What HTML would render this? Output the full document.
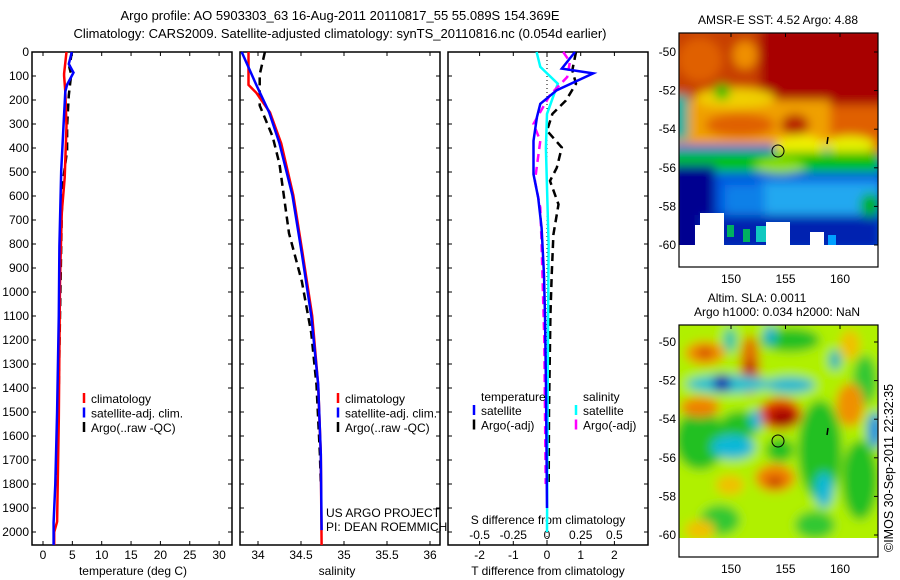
<!DOCTYPE html>
<html><head><meta charset="utf-8"><style>
html,body{margin:0;padding:0;background:#fff;}
svg{display:block;font-family:"Liberation Sans",sans-serif;}
text{font-size:12px;fill:#000;}
</style></head><body>
<svg id="chart" width="900" height="580" viewBox="0 0 900 580" xmlns="http://www.w3.org/2000/svg">
<defs>
<filter id="blur4" x="-10%" y="-10%" width="120%" height="120%"><feGaussianBlur stdDeviation="5"/></filter>
<clipPath id="clipTop"><rect x="679" y="33" width="199" height="212"/></clipPath>
<clipPath id="clipBot"><rect x="679" y="325" width="199" height="213"/></clipPath>
<clipPath id="clipP1"><rect x="32" y="40" width="200" height="505"/></clipPath>
<clipPath id="clipP2"><rect x="240" y="40" width="200" height="505"/></clipPath>
<clipPath id="clipP3"><rect x="448" y="40" width="200" height="505"/></clipPath>
</defs>
<text x="340" y="20" text-anchor="middle" style="font-size:13px">Argo profile: AO 5903303_63 16-Aug-2011 20110817_55 55.089S 154.369E</text>
<text x="340" y="38" text-anchor="middle" style="font-size:13px">Climatology: CARS2009. Satellite-adjusted climatology: synTS_20110816.nc (0.054d earlier)</text>

<g id="p1"></g>
<g id="p2"></g>
<g id="p3"></g>

<g>
<text x="778" y="24" text-anchor="middle">AMSR-E SST: 4.52 Argo: 4.88</text>
<g clip-path="url(#clipTop)">
<g filter="url(#blur4)">
<rect x="670" y="25" width="220" height="240" fill="#0058e0"/>
<rect x="670" y="25" width="220" height="95" fill="#a80000"/>
<rect x="670" y="25" width="90" height="80" fill="#c84000"/>
<ellipse cx="700" cy="60" rx="22" ry="22" fill="#e06000"/>
<ellipse cx="745" cy="55" rx="12" ry="14" fill="#f09000"/>
<rect x="670" y="100" width="160" height="45" fill="#f0a000"/>
<ellipse cx="740" cy="125" rx="35" ry="12" fill="#e06000"/>
<ellipse cx="795" cy="125" rx="14" ry="11" fill="#b82000"/>
<rect x="830" y="105" width="60" height="50" fill="#e06000"/>
<ellipse cx="735" cy="98" rx="40" ry="10" fill="#f0d000"/>
<ellipse cx="800" cy="148" rx="25" ry="13" fill="#f0f000"/>
<ellipse cx="850" cy="145" rx="25" ry="9" fill="#e8f000"/>
<ellipse cx="722" cy="92" rx="8" ry="8" fill="#00c000"/>
<rect x="670" y="95" width="18" height="45" fill="#00b0a0"/>
<rect x="670" y="152" width="210" height="20" fill="#00c000"/>
<ellipse cx="780" cy="166" rx="25" ry="8" fill="#90e000"/>
<rect x="760" y="182" width="120" height="35" fill="#20a8f0"/>
<rect x="725" y="185" width="40" height="30" fill="#1080e8"/>
<rect x="670" y="165" width="45" height="90" fill="#000090"/>
<rect x="700" y="215" width="180" height="35" fill="#0020b0"/>
<ellipse cx="870" cy="205" rx="10" ry="12" fill="#00b000"/>
</g>
<rect x="700" y="213" width="24" height="35" fill="#fff"/>
<rect x="695" y="225" width="10" height="25" fill="#fff"/>
<rect x="766" y="222" width="24" height="25" fill="#fff"/>
<rect x="727" y="225" width="7" height="12" fill="#00b060"/>
<rect x="743" y="229" width="7" height="13" fill="#00b060"/>
<rect x="756" y="226" width="10" height="16" fill="#10c8c0"/>
<rect x="810" y="232" width="14" height="15" fill="#fff"/>
<rect x="828" y="235" width="8" height="10" fill="#00a0ff"/>
</g>
<rect x="679" y="245" width="199" height="22" fill="#fff"/>
<circle cx="778" cy="151" r="6" fill="none" stroke="#000" stroke-width="1"/>
<line x1="828" y1="137" x2="827" y2="144" stroke="#000" stroke-width="1.5"/>
<rect x="679" y="33" width="199" height="234" fill="none" stroke="#000" stroke-width="1.2"/>
</g>

<g>
<text x="757" y="302" text-anchor="middle">Altim. SLA: 0.0011</text>
<text x="777" y="316" text-anchor="middle">Argo h1000: 0.034 h2000: NaN</text>
<g clip-path="url(#clipBot)">
<g filter="url(#blur4)">
<rect x="670" y="315" width="220" height="240" fill="#b0f000"/>
<ellipse cx="700" cy="440" rx="25" ry="30" fill="#20c020"/>
<ellipse cx="740" cy="425" rx="20" ry="14" fill="#20c020"/>
<ellipse cx="820" cy="450" rx="22" ry="50" fill="#20c020"/>
<ellipse cx="860" cy="480" rx="18" ry="40" fill="#20c020"/>
<ellipse cx="790" cy="340" rx="30" ry="12" fill="#20c020"/>
<ellipse cx="720" cy="520" rx="20" ry="15" fill="#30c830"/>
<ellipse cx="815" cy="525" rx="20" ry="14" fill="#30c830"/>
<ellipse cx="865" cy="380" rx="12" ry="25" fill="#30c830"/>
<ellipse cx="780" cy="450" rx="14" ry="12" fill="#20c020"/>
<ellipse cx="705" cy="353" rx="20" ry="12" fill="#f09000"/>
<ellipse cx="705" cy="353" rx="8" ry="5" fill="#d04000"/>
<ellipse cx="750" cy="365" rx="10" ry="30" fill="#e07000"/>
<ellipse cx="750" cy="370" rx="5" ry="10" fill="#b02000"/>
<ellipse cx="728" cy="384" rx="42" ry="9" fill="#20c0d0"/>
<ellipse cx="790" cy="385" rx="25" ry="8" fill="#20b8d0"/>
<ellipse cx="722" cy="383" rx="9" ry="9" fill="#0030b0"/>
<ellipse cx="700" cy="407" rx="20" ry="10" fill="#f08000"/>
<ellipse cx="780" cy="414" rx="22" ry="16" fill="#e03000"/>
<ellipse cx="783" cy="418" rx="14" ry="9" fill="#a00000"/>
<ellipse cx="733" cy="447" rx="22" ry="12" fill="#10b8d8"/>
<ellipse cx="756" cy="420" rx="6" ry="10" fill="#10b0e0"/>
<ellipse cx="775" cy="478" rx="20" ry="14" fill="#f08000"/>
<ellipse cx="775" cy="482" rx="8" ry="5" fill="#c03000"/>
<ellipse cx="730" cy="485" rx="14" ry="10" fill="#f0c000"/>
<ellipse cx="824" cy="490" rx="9" ry="18" fill="#10b8d8"/>
<ellipse cx="850" cy="405" rx="14" ry="22" fill="#f09000"/>
<ellipse cx="850" cy="345" rx="10" ry="15" fill="#f0c000"/>
<ellipse cx="875" cy="430" rx="8" ry="18" fill="#0090e0"/>
<ellipse cx="770" cy="335" rx="6" ry="10" fill="#00b0d0"/>
<ellipse cx="730" cy="340" rx="6" ry="12" fill="#00c0b0"/>
<ellipse cx="835" cy="360" rx="6" ry="10" fill="#00b0c0"/>
<ellipse cx="700" cy="530" rx="15" ry="10" fill="#f0c000"/>
</g>
</g>
<rect x="679" y="538" width="199" height="19" fill="#fff"/>
<circle cx="778" cy="441" r="6" fill="none" stroke="#000" stroke-width="1"/>
<line x1="828" y1="428" x2="827" y2="435" stroke="#000" stroke-width="1.5"/>
<rect x="679" y="325" width="199" height="232" fill="none" stroke="#000" stroke-width="1.2"/>
</g>
<g id="maplabels"></g>
<text transform="translate(893,552) rotate(-90)" style="font-size:12.5px">©IMOS 30-Sep-2011 22:32:35</text>
</svg>
<script>
// ---- data ----
const depthTicks = [0,100,200,300,400,500,600,700,800,900,1000,1100,1200,1300,1400,1500,1600,1700,1800,1900,2000];
const tempTicks = [0,5,10,15,20,25,30];
const salTicks = [34,34.5,35,35.5,36];
const tdiffTicks = [-2,-1,0,1,2];
const sdiffTicks = [-0.5,-0.25,0,0.25,0.5];
const sdiffTickLabels = ['-0.5','-0.25','0','0.25','0.5'];

const climTempDepth = [0,90,100,165,308,523,667,953,1527,1957,2000,2054];
const climTemp      = [4.0,3.6,3.6,3.8,4.0,3.7,3.2,2.9,2.7,2.4,1.9,1.9];
const satTempDepth  = [0,50,86,136,165,308,495,810,1097,1500,1800,1960,2054];
const satTemp       = [4.9,4.4,5.2,4.1,3.8,3.5,3.1,2.8,2.7,2.4,2.1,1.8,1.8];
const argoTempDepth = [0,65,93,180,308,409,523,667,1097,1670,1800];
const argoTemp      = [4.9,4.5,4.8,4.4,4.1,4.1,3.5,3.2,2.9,2.5,2.3];

const climSalDepth = [0,137,170,252,381,597,842,1100,1388,1676,2054];
const climSal      = [33.89,33.89,33.98,34.14,34.27,34.41,34.52,34.63,34.70,34.73,34.74];
const satSalDepth  = [0,137,252,381,597,842,1100,1388,1676,1992];
const satSal       = [33.81,33.98,34.13,34.25,34.40,34.51,34.62,34.70,34.73,34.74];
const argoSalDepth = [0,94,223,352,467,755,957,1172,1388,1676,1800];
const argoSal      = [34.08,34.02,34.02,34.17,34.25,34.36,34.51,34.62,34.68,34.72,34.73];

const satTdiffDepth  = [0,69,89,159,216,272,370,509,607,733,929,1100,1400,1900];
const satTdiff       = [0.83,0.44,1.37,0.29,-0.2,-0.3,-0.4,-0.4,-0.26,-0.16,-0.09,-0.06,-0.03,0];
const argoTdiffDepth = [0,76,132,202,258,328,398,482,537,635,761,929,1100,1500,1800];
const argoTdiff      = [0.86,0.75,0.86,0.56,0.16,0,0.44,0.29,0.09,0.34,0.19,0.14,0.1,0.06,0.05];
const satSdiffDepth  = [0,62,132,258,400,800,1400,2000];
const satSdiff       = [-0.077,-0.05,0.08,0,-0.008,0.012,0.005,0];
const argoSdiffDepth = [0,41,104,181,300,370,537,649,800,1200,1800];
const argoSdiff      = [0.12,0.17,0.15,0.02,-0.1,-0.05,-0.09,-0.05,-0.04,-0.02,-0.01];

const latTicks = [-50,-52,-54,-56,-58,-60];
const lonTicks = [150,155,160];

// ---- scales ----
const yD = d => 52 + d*0.24;
const xT = t => 43 + t*5.87;
const xS = s => 258 + (s-34)*86;
const xTd = t => 547 + t*33.7;
const xSd = s => 547 + s*4*33.7;
const NS='http://www.w3.org/2000/svg';
function mk(parent,tag,attrs){const e=document.createElementNS(NS,tag);for(const k in attrs)e.setAttribute(k,attrs[k]);parent.appendChild(e);return e;}
function line(parent,vals,depths,xf,color,dash,name){
  let d='';
  for(let i=0;i<vals.length;i++){d+=(i?'L':'M')+xf(vals[i]).toFixed(1)+','+yD(depths[i]).toFixed(1);}
  const p=mk(parent,'path',{d:d,fill:'none',stroke:color,'stroke-width':2.5,'stroke-dasharray':dash||'none'});
  
  
  return p;
}
function txt(parent,x,y,s,anchor,name){const t=mk(parent,'text',{x:x,y:y,'text-anchor':anchor||'start'});t.textContent=s;
  
  
  return t;}
function frame(parent,x0,name){
  const r=mk(parent,'rect',{x:x0,y:52,width:200,height:493,fill:'none',stroke:'#000','stroke-width':1.5});
  
  
}
function yticks(parent,x0){
  depthTicks.forEach(d=>{mk(parent,'line',{x1:x0,x2:x0+4,y1:yD(d),y2:yD(d),stroke:'#000'});mk(parent,'line',{x1:x0+200,x2:x0+196,y1:yD(d),y2:yD(d),stroke:'#000'});});
}
function legend(parent,x,y,items){
  items.forEach((it,i)=>{
    mk(parent,'line',{x1:x,x2:x,y1:y+i*14.5-10,y2:y+i*14.5,stroke:it[1],'stroke-width':2.5});
    txt(parent,x+7,y+i*14.5,it[0],'start','legend-entry');
  });
}

const p1=document.getElementById('p1');
frame(p1,32,'temperature-plot-frame'); yticks(p1,32);
depthTicks.forEach(d=>txt(p1,29,yD(d)+4,String(d),'end','depth-tick-label'));
tempTicks.forEach(t=>{mk(p1,'line',{x1:xT(t),x2:xT(t),y1:545,y2:541,stroke:'#000'});mk(p1,'line',{x1:xT(t),x2:xT(t),y1:52,y2:56,stroke:'#000'});txt(p1,xT(t),559,String(t),'middle','temperature-tick-label');});
txt(p1,133,575,'temperature (deg C)','middle','temperature-axis-title');
const g1=mk(p1,'g',{'clip-path':'url(#clipP1)'});
line(g1,argoTemp,argoTempDepth,xT,'#000','8,5','argo-temperature-line');
line(g1,climTemp,climTempDepth,xT,'#f00',null,'climatology-temperature-line');
line(g1,satTemp,satTempDepth,xT,'#00f',null,'satellite-temperature-line');
legend(p1,84,403,[['climatology','#f00'],['satellite-adj. clim.','#00f'],['Argo(..raw -QC)','#000']]);

const p2=document.getElementById('p2');
frame(p2,240,'salinity-plot-frame'); yticks(p2,240);
salTicks.forEach(s=>{mk(p2,'line',{x1:xS(s),x2:xS(s),y1:545,y2:541,stroke:'#000'});mk(p2,'line',{x1:xS(s),x2:xS(s),y1:52,y2:56,stroke:'#000'});txt(p2,xS(s),559,String(s),'middle','salinity-tick-label');});
txt(p2,337,575,'salinity','middle','salinity-axis-title');
const g2=mk(p2,'g',{'clip-path':'url(#clipP2)'});
line(g2,argoSal,argoSalDepth,xS,'#000','8,5','argo-salinity-line');
line(g2,climSal,climSalDepth,xS,'#f00',null,'climatology-salinity-line');
line(g2,satSal,satSalDepth,xS,'#00f',null,'satellite-salinity-line');
legend(p2,338,403,[['climatology','#f00'],['satellite-adj. clim.','#00f'],['Argo(..raw -QC)','#000']]);
txt(p2,326,517,'US ARGO PROJECT','start','credit-project');
txt(p2,326,531,'PI: DEAN ROEMMICH','start','credit-pi');

const p3=document.getElementById('p3');
frame(p3,448,'difference-plot-frame'); yticks(p3,448);
mk(p3,'line',{x1:547,x2:547,y1:52,y2:545,stroke:'#000','stroke-dasharray':'1,3'});
tdiffTicks.forEach(t=>{mk(p3,'line',{x1:xTd(t),x2:xTd(t),y1:545,y2:541,stroke:'#000'});mk(p3,'line',{x1:xTd(t),x2:xTd(t),y1:52,y2:56,stroke:'#000'});txt(p3,xTd(t),559,String(t),'middle','t-diff-tick-label');});
sdiffTicks.forEach((s,i)=>txt(p3,xSd(s),539,sdiffTickLabels[i],'middle','s-diff-tick-label'));
txt(p3,548,524,'S difference from climatology','middle','s-diff-axis-title');
txt(p3,548,575,'T difference from climatology','middle','t-diff-axis-title');
const g3=mk(p3,'g',{'clip-path':'url(#clipP3)'});
line(g3,argoTdiff,argoTdiffDepth,xTd,'#000','8,5','argo-t-diff-line');
line(g3,satSdiff,satSdiffDepth,xSd,'#0ff',null,'satellite-s-diff-line');
line(g3,argoSdiff,argoSdiffDepth,xSd,'#f0f','8,5','argo-s-diff-line');
line(g3,satTdiff,satTdiffDepth,xTd,'#00f',null,'satellite-t-diff-line');
txt(p3,481,401,'temperature','start','legend-temperature-header');
txt(p3,583,401,'salinity','start','legend-salinity-header');
[['satellite','#00f',474],['Argo(-adj)','#000',474],['satellite','#0ff',576],['Argo(-adj)','#f0f',576]].forEach((it,i)=>{
  const yy=415+(i%2)*14.5;
  mk(p3,'line',{x1:it[2],x2:it[2],y1:yy-10,y2:yy,stroke:it[1],'stroke-width':2.5});
  txt(p3,it[2]+7,yy,it[0],'start','legend-entry');
});

const ml=document.getElementById('maplabels');
const yLatTop = l => 52 + (-50-l)*19.3;
const yLatBot = l => 342 + (-50-l)*19.3;
const xLon = l => 731 + (l-150)*10.9;
latTicks.forEach(l=>{
  txt(ml,676,yLatTop(l)+4,String(l),'end','sst-lat-label');
  txt(ml,676,yLatBot(l)+4,String(l),'end','sla-lat-label');
  mk(ml,'line',{x1:878,x2:874,y1:yLatTop(l),y2:yLatTop(l),stroke:'#000'});
  mk(ml,'line',{x1:878,x2:874,y1:yLatBot(l),y2:yLatBot(l),stroke:'#000'});
});
lonTicks.forEach(l=>{
  txt(ml,xLon(l),283,String(l),'middle','sst-lon-label');
  txt(ml,xLon(l),573,String(l),'middle','sla-lon-label');
  mk(ml,'line',{x1:xLon(l),x2:xLon(l),y1:33,y2:37,stroke:'#000'});
  mk(ml,'line',{x1:xLon(l),x2:xLon(l),y1:325,y2:329,stroke:'#000'});
});
</script>
</body></html>
